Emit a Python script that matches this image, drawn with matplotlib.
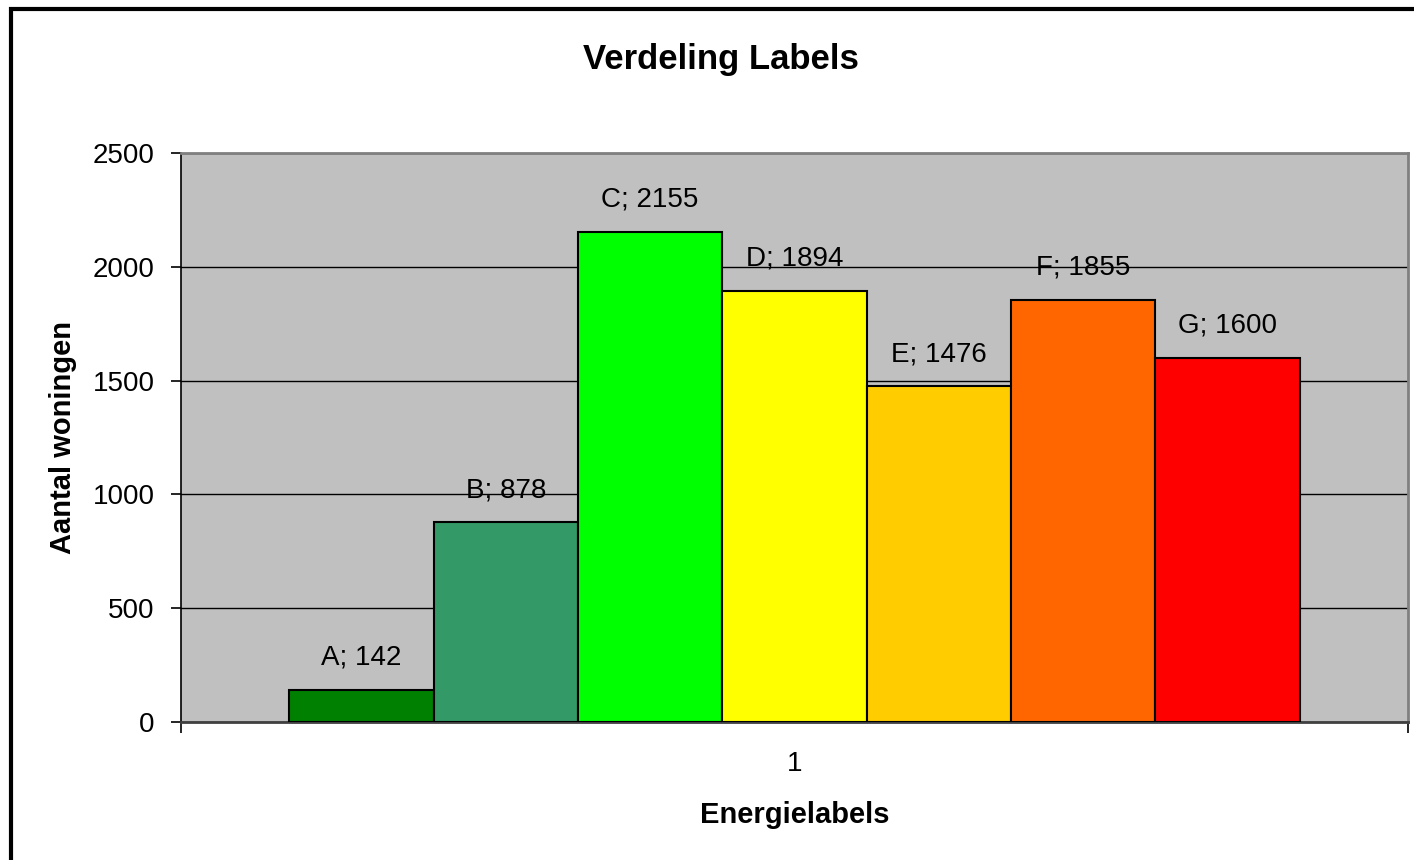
import matplotlib.pyplot as plt
from matplotlib.patches import Rectangle

plt.rcParams["font.family"] = ["Liberation Sans", "DejaVu Sans"]

labels = ["A", "B", "C", "D", "E", "F", "G"]
counts = [142, 878, 2155, 1894, 1476, 1855, 1600]
colors = ["#008000", "#339966", "#00FF00", "#FFFF00", "#FFCC00", "#FF6600", "#FF0000"]
category = "1"

# Excel-style clustered column: 7 series in one category, gap width 150%
n = len(labels)
bar_w = 1.0 / (n + 1.5)

fig = plt.figure(figsize=(14.14, 8.6), dpi=100)
ax = fig.add_axes([181 / 1414, 1 - 722 / 860, (1408 - 181) / 1414, (722 - 153) / 860])
ax.set_facecolor("#C0C0C0")

for i, (lab, val, col) in enumerate(zip(labels, counts, colors)):
    x = (i - (n - 1) / 2) * bar_w
    ax.bar(x, val, width=bar_w, color=col, edgecolor="black", linewidth=1.5, zorder=3)
    ax.annotate(f"{lab}; {val}", (x, val), xytext=(0, 23), textcoords="offset points",
                ha="center", va="center", fontsize=20, zorder=4)

ax.set_xlim(-0.5, 0.5)
ax.set_ylim(0, 2500)
ax.set_yticks(range(0, 2501, 500))
ax.yaxis.grid(True, color="black", linewidth=1, zorder=1)
ax.set_axisbelow(True)

ax.set_xticks([0])
ax.set_xticklabels([category])
ax.set_xticks([-0.5, 0.5], minor=True)
ax.tick_params(axis="x", which="major", length=0, pad=21, labelsize=20)
ax.tick_params(axis="x", which="minor", length=8, width=1.2, color="black", direction="out")
ax.tick_params(axis="y", length=7, width=1.2, direction="out", pad=12, labelsize=20)

for side in ["top", "right"]:
    ax.spines[side].set_color("#808080")
    ax.spines[side].set_linewidth(2)
ax.spines["left"].set_color("black")
ax.spines["bottom"].set_color("#404040")
ax.spines["left"].set_linewidth(1.2)
ax.spines["bottom"].set_linewidth(2)

ax.set_xlabel("Energielabels", fontsize=21, fontweight="bold", labelpad=17)
ax.set_ylabel("Aantal woningen", fontsize=21, fontweight="bold", labelpad=11)
fig.text(721 / 1414, 1 - 59 / 860, "Verdeling Labels", fontsize=25, fontweight="bold",
         ha="center", va="center")

# chart area border (right and bottom edges fall outside the image)
fig.add_artist(Rectangle((11 / 1414, -0.1), 1.2, 1 - 9 / 860 + 0.1,
                         transform=fig.transFigure, fill=False,
                         edgecolor="black", linewidth=3))

fig.savefig("out.png", dpi=100)
